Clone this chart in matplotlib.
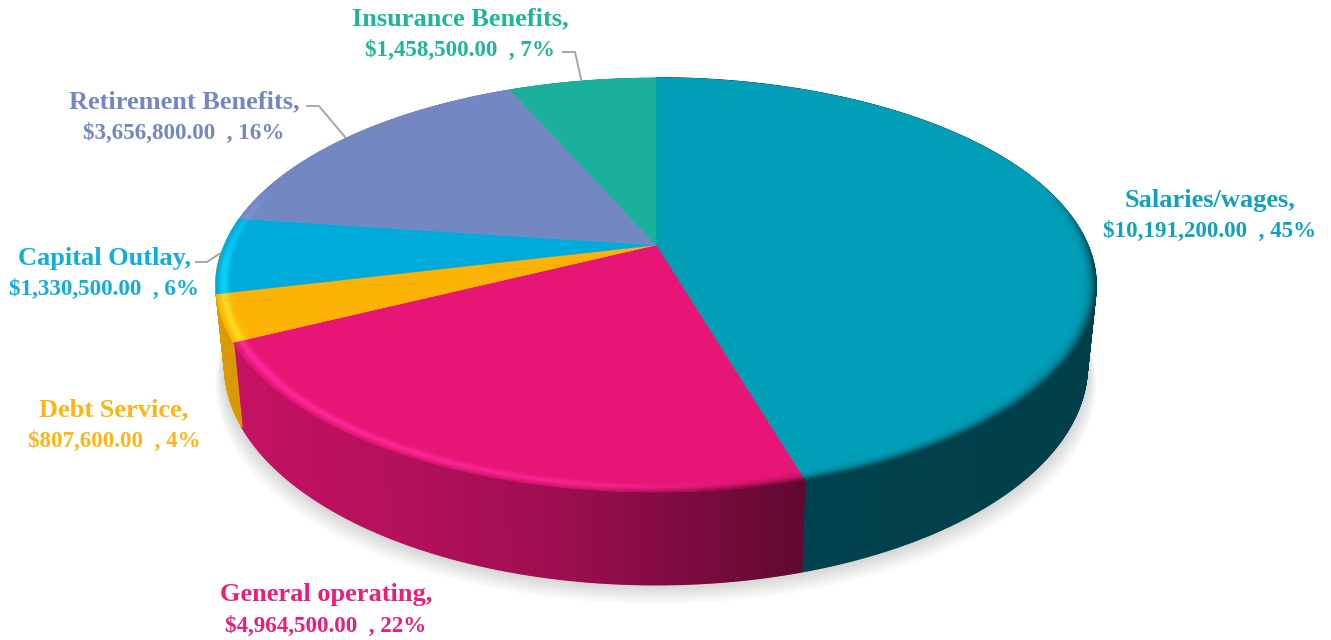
import numpy as np
import matplotlib
matplotlib.use("Agg")
import matplotlib.pyplot as plt
from matplotlib.collections import PolyCollection
from matplotlib.colors import to_rgb
from matplotlib.patches import Polygon

categories = ["Salaries/wages", "General operating", "Debt Service",
              "Capital Outlay", "Retirement Benefits", "Insurance Benefits"]
amounts = [10191200.00, 4964500.00, 807600.00, 1330500.00, 3656800.00, 1458500.00]
colors = ["#019EB8", "#E71575", "#FDB305", "#00ABDB", "#7387C3", "#1BB09B"]
text_colors = ["#0FA3BB", "#E91E7B", "#FDB515", "#0FAEDD", "#7387C3", "#1FB598"]
label_pos = [(1210, 198), (326, 593), (114, 408), (104, 256), (184, 100), (460, 17)]
leaders = [None, None, None,
           [(196, 262), (207, 262), (219, 254)],
           [(307, 106), (319, 106), (345, 137)],
           [(563, 52), (575, 52), (581, 79)]]

# perspective disc: apex and radii in pixels
CX, CY = 656, 245
A, B, K = 431.7, 199.3, 0.193


def top_xy(theta, r=1.0):
    # theta runs clockwise from 12 o'clock
    X, Y = r * np.sin(theta), r * np.cos(theta)
    d = 1 + K * Y
    return CX + A * X / d, CY - B * Y / d


def bottom_xy(theta):
    x, y = top_xy(theta)
    return CX + 0.98 * (x - CX), 285 + 1.0576 * (y - 285) + 80.7


def wall_shade(x):
    return np.interp(x, [216, 400, 560, 800, 1100], [0.86, 0.78, 0.68, 0.42, 0.40])


fig = plt.figure(figsize=(13.31, 6.4), dpi=100)
ax = fig.add_axes([0, 0, 1, 1])
ax.set_xlim(0, 1331)
ax.set_ylim(640, 0)
ax.axis("off")

values = np.array(amounts)
edges = np.concatenate([[0], np.cumsum(values) / values.sum()]) * 2 * np.pi

# soft shadow under the disc
t = np.linspace(0, 2 * np.pi, 400)
bx, by = bottom_xy(t)
for i in range(14, 0, -1):
    sx = CX + (bx - CX) * (1 + 0.0016 * i)
    sy = by + 1.4 * i
    ax.add_patch(Polygon(np.c_[sx, sy], fc="k", ec="none", alpha=0.012, zorder=1))

# side wall, one thin quad per step so the shading can follow x
# only the first three slices face the viewer; the last of them wraps to the left silhouette
quads, quad_cols = [], []
for i, (c, t0, t1) in enumerate(zip(colors[:3], edges[:3], edges[1:4])):
    if i == 2:
        t1 = t1 + 0.2
    ts = np.linspace(t0, t1, max(int((t1 - t0) * 180), 4))
    xt, yt = top_xy(ts)
    xb, yb = bottom_xy(ts)
    for j in range(len(ts) - 1):
        quads.append([(xt[j], yt[j]), (xt[j + 1], yt[j + 1]), (xb[j + 1], yb[j + 1]), (xb[j], yb[j])])
        quad_cols.append(np.array(to_rgb(c)) * wall_shade(xt[j]))
ax.add_collection(PolyCollection(quads, facecolors=quad_cols, edgecolors=quad_cols, linewidths=1.2, zorder=2))

# top face
for c, t0, t1 in zip(colors, edges[:-1], edges[1:]):
    ts = np.linspace(t0, t1, 200)
    x, y = top_xy(ts)
    ax.add_patch(Polygon(np.r_[[(CX, CY)], np.c_[x, y]], fc=c, ec=c, lw=0.4, zorder=3))

# bevel along the front rim: dark at the edge, a bright band just inside on the lit side
radii = np.linspace(1.0, 0.962, 14)
quads, quad_cols = [], []
for c, t0, t1 in zip(colors, edges[:-1], edges[1:]):
    base = np.array(to_rgb(c))
    bright = np.clip(base * 1.12 + np.array([0.05, 0.08, 0.1]), 0, 1)
    ts = np.linspace(t0, t1, max(int((t1 - t0) * 120), 4))
    for r0, r1 in zip(radii[:-1], radii[1:]):
        u = (1 - r0) / (1 - radii[-1])
        xa, ya = top_xy(ts, r0)
        xc, yc = top_xy(ts, r1)
        for j in range(len(ts) - 1):
            tm = 0.5 * (ts[j] + ts[j + 1])
            front = np.clip((0.3 - np.cos(tm)) / 0.4, 0, 1)
            lit = np.interp(xa[j], [216, 600, 780], [1, 0.75, 0])
            dark_amt = (1 - u) ** 3 * (1 - 0.85 * lit) * 0.95
            glow = np.exp(-((u - 0.42) / 0.28) ** 2) * lit
            col = base + (bright - base) * glow
            col = col + (base * wall_shade(xa[j]) - col) * dark_amt
            col = base + (col - base) * front
            quads.append([(xa[j], ya[j]), (xa[j + 1], ya[j + 1]), (xc[j + 1], yc[j + 1]), (xc[j], yc[j])])
            quad_cols.append(col)
ax.add_collection(PolyCollection(quads, facecolors=quad_cols, edgecolors=quad_cols, linewidths=0.4, zorder=4))

# labels and leader lines
pct = values / values.sum() * 100
for name, amt, p, tc, (lx, ly), lead in zip(categories, amounts, pct, text_colors, label_pos, leaders):
    ax.text(lx, ly + 2, name + ",", color=tc, ha="center", va="center", fontsize=19,
            family="Liberation Serif", fontweight="bold", zorder=6)
    ax.text(lx, ly + 33, f"${amt:,.2f}  , {p:.0f}%", color=tc, ha="center", va="center", fontsize=16.6,
            family="Liberation Serif", fontweight="bold", zorder=6)
    if lead:
        xs, ys = zip(*lead)
        ax.plot(xs, ys, color="#A6A6A6", lw=1.4, zorder=5, solid_joinstyle="miter")

fig.savefig("out.png", dpi=100, facecolor="white")
